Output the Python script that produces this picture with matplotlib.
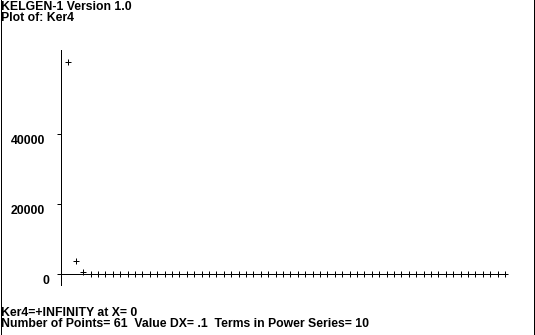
import matplotlib
matplotlib.use("Agg")
import matplotlib.pyplot as plt
import matplotlib.transforms as mtransforms
from matplotlib.lines import Line2D

# ---- data ----
dx = 0.1
x_vals = [round(dx * i, 1) for i in range(1, 61)]   # X = 0 is +INFINITY, not drawn
ker4_vals = [60300, 3600, 550] + [0] * 57
y_ticks = [0, 20000, 40000]
y_tick_labels = ["0", "20000", "40000"]
title_lines = ["KELGEN-1 Version 1.0", "Plot of: Ker4"]
footer_lines = ["Ker4=+INFINITY at X= 0",
                "Number of Points= 61  Value DX= .1  Terms in Power Series= 10"]

plt.rcParams['lines.antialiased'] = False

W, H = 535, 335
fig = plt.figure(figsize=(W / 100, H / 100), dpi=100)
fig.patch.set_facecolor("white")

def fx(px):
    return px / W

def fy(py):
    return 1 - py / H

# axes: x 0..6 -> px 61..505 ; y 0 at px 273.5, 20000 per 70 px
ax_left, ax_right, ax_top, ax_bottom = 61, 505, 50, 285
y0_px = 273.5
ax = fig.add_axes([fx(ax_left), fy(ax_bottom), fx(ax_right - ax_left),
                   (ax_bottom - ax_top) / H])
ax.set_facecolor("none")
per_px = 20000 / 70
ax.set_xlim(0, 6)
ax.set_ylim(-(ax_bottom - y0_px) * per_px, (y0_px - ax_top) * per_px)

for s in ["top", "right", "bottom"]:
    ax.spines[s].set_visible(False)
ax.spines["left"].set_linewidth(0.72)
ax.spines["left"].set_color("black")
ax.set_xticks([])
ax.set_yticks(y_ticks)
ax.tick_params(axis="y", direction="out", length=3, width=0.72, labelleft=False)

ax.axhline(0, color="black", lw=0.72)
ax.plot(x_vals, ker4_vals, linestyle="none", marker="+", markersize=5,
        markeredgewidth=0.72, color="black", clip_on=False)

font = dict(family=["Liberation Sans", "DejaVu Sans"], weight="bold", size=8.8)

# y tick labels, slightly below their ticks
trans = mtransforms.offset_copy(ax.get_yaxis_transform(), fig=fig, x=0, y=-8, units="dots")
for v, lab in zip(y_ticks, y_tick_labels):
    xr = 49 if v == 0 else 45
    ax.text((xr - ax_left) / (ax_right - ax_left), v, lab, transform=trans,
            ha="right", va="center", color="black", **font)

fig.text(fx(1), fy(10), title_lines[0], ha="left", va="baseline", color="black", **font)
fig.text(fx(1), fy(21), title_lines[1], ha="left", va="baseline", color="black", **font)
fig.text(fx(1), fy(316), footer_lines[0], ha="left", va="baseline", color="black", **font)
fig.text(fx(1), fy(327), footer_lines[1], ha="left", va="baseline", color="black", **font)

# window frame: left, right, bottom
frame_kw = dict(color="black", lw=0.72, transform=fig.transFigure)
fig.add_artist(Line2D([fx(0.5), fx(0.5)], [0, 1], **frame_kw))
fig.add_artist(Line2D([fx(533.5), fx(533.5)], [0, 1], **frame_kw))
fig.add_artist(Line2D([0, fx(534)], [fy(334.5), fy(334.5)], **frame_kw))

fig.savefig("out.png", dpi=100, facecolor="white")
